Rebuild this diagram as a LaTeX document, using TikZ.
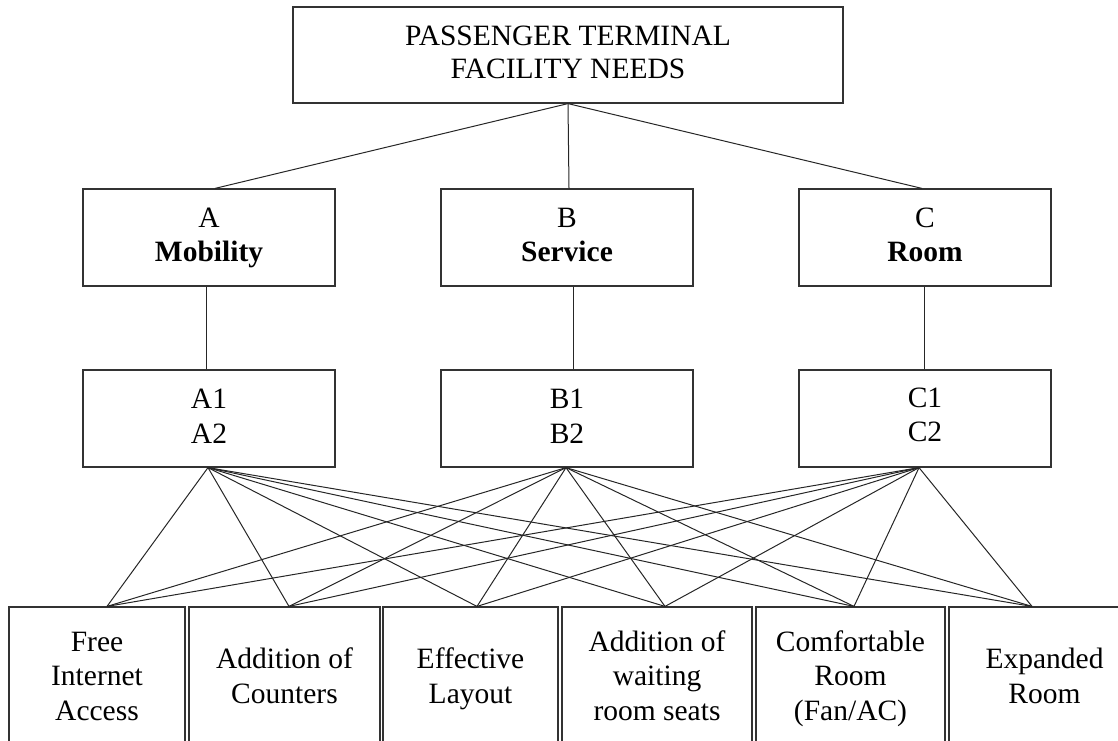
\documentclass[tikz,border=0pt]{standalone}
\usepackage{fontspec}
\setmainfont{Liberation Serif}
\begin{document}
\begin{tikzpicture}[x=1pt,y=-1pt,
  box/.style={draw=black!80, line width=1.2pt, inner sep=0pt, align=center,
    font=\fontsize{29.5}{34.5}\selectfont},
  midbox/.style={box, minimum width=252pt, minimum height=97pt},
  lowbox/.style={box, minimum height=144pt},
  link/.style={draw=black!85, line width=1pt}]
\useasboundingbox (0,0) rectangle (1118,740);
\clip (0,0) rectangle (1118,740);

% top
\node[box, minimum width=550pt, minimum height=96pt,
  font=\fontsize{29.5}{33}\selectfont] (top) at (568,55) {\strut PASSENGER TERMINAL\\FACILITY NEEDS\strut};

% row 1
\node[midbox] (A) at (209,237.5) {\strut A\\\textbf{Mobility}\strut};
\node[midbox] (B) at (567,237.5) {\strut B\\\textbf{Service}\strut};
\node[midbox] (C) at (925,237.5) {\strut C\\\textbf{Room}\strut};

% row 2
\node[midbox] (A12) at (209,418.5) {A1\\A2\rule[-4pt]{0pt}{0pt}};
\node[midbox] (B12) at (567,418.5) {B1\\B2\rule[-4pt]{0pt}{0pt}};
\node[midbox] (C12) at (925,418.5) {C1\\C2\rule[-8pt]{0pt}{0pt}};

% bottom row (top edge at y=607, lower part cut by the page)
\node[lowbox, minimum width=176pt] (b1) at (97,679) {\strut Free\\Internet\\Access\strut};
\node[lowbox, minimum width=191pt] (b2) at (284.5,679) {\strut Addition of\\Counters\strut};
\node[lowbox, minimum width=175pt] (b3) at (470.5,679) {\strut Effective\\Layout\strut};
\node[lowbox, minimum width=190pt] (b4) at (657,679) {\strut Addition of\\waiting\\room seats\strut};
\node[lowbox, minimum width=189pt] (b5) at (850.5,679) {\strut Comfortable\\Room\\(Fan/AC)\strut};
\node[lowbox, minimum width=191pt] (b6) at (1044.5,679) {\strut Expanded\\Room\strut};

% connection points
\coordinate (tA) at ([xshift=6pt]A.north);
\coordinate (tB) at ([xshift=2pt]B.north);
\coordinate (tC) at ([xshift=-3pt]C.north);
\coordinate (pA) at ([xshift=-1pt]A12.south);
\coordinate (pB) at ([xshift=-1pt]B12.south);
\coordinate (pC) at ([xshift=-6pt]C12.south);
\coordinate (q1) at ([xshift=10pt]b1.north);
\coordinate (q2) at ([xshift=4.5pt]b2.north);
\coordinate (q3) at ([xshift=6.5pt]b3.north);
\coordinate (q4) at ([xshift=8pt]b4.north);
\coordinate (q5) at ([xshift=3.5pt]b5.north);
\coordinate (q6) at ([xshift=-12.5pt]b6.north);

% top to row 1
\draw[link] (top.south) -- (tA);
\draw[link] (top.south) -- (tB);
\draw[link] (top.south) -- (tC);

% row 1 to row 2
\draw[link] ([xshift=-3pt]A.south) -- ([xshift=-3pt]A.south |- A12.north);
\draw[link] ([xshift=6pt]B.south) -- ([xshift=6pt]B.south |- B12.north);
\draw[link] ([xshift=-1pt]C.south) -- ([xshift=-1pt]C.south |- C12.north);

% row 2 to bottom
\foreach \p in {pA,pB,pC}{
  \foreach \q in {q1,q2,q3,q4,q5,q6}{
    \draw[link] (\p) -- (\q);
  }
}
\end{tikzpicture}
\end{document}
